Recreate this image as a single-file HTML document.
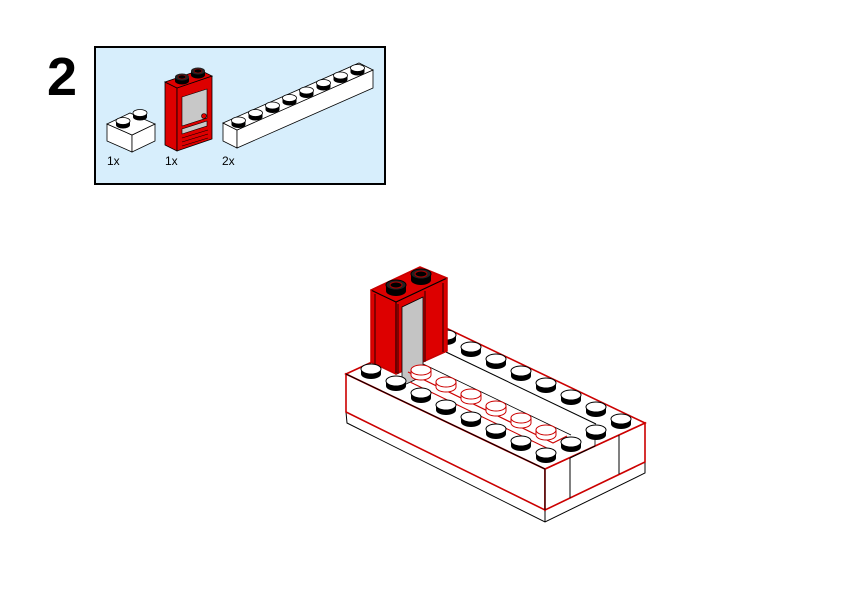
<!DOCTYPE html>
<html><head><meta charset="utf-8"><style>
html,body{margin:0;padding:0;background:#fff;}
svg{display:block;}
text{font-family:"Liberation Sans",sans-serif;}
</style></head><body>
<svg width="842" height="596" viewBox="0 0 842 596" xmlns="http://www.w3.org/2000/svg">
<defs>
<g id="s">
<ellipse cx="0" cy="0" rx="10" ry="5" fill="#000"/>
<rect x="-10" y="-5" width="20" height="5" fill="#000"/>
<ellipse cx="0" cy="-5" rx="10" ry="5" fill="#fff" stroke="#000" stroke-width="1"/>
</g>
<g id="g">
<ellipse cx="0" cy="0" rx="10" ry="5" fill="#fff" stroke="#c00" stroke-width="1"/>
<rect x="-10" y="-5" width="20" height="5" fill="#fff"/>
<path d="M-10,-5 V0 M10,-5 V0" stroke="#c00" stroke-width="1"/>
<ellipse cx="0" cy="-5" rx="10" ry="5" fill="#fff" stroke="#c00" stroke-width="1"/>
</g>
<g id="d">
<ellipse cx="0" cy="0" rx="10" ry="5" fill="#000"/>
<rect x="-10" y="-6" width="20" height="6" fill="#000"/>
<ellipse cx="0" cy="-6" rx="10" ry="5" fill="#222" stroke="#000"/>
<ellipse cx="0" cy="-6" rx="6" ry="3" fill="#000" stroke="#a00"/>
</g>
<g id="ss">
<ellipse cx="0" cy="0" rx="7" ry="3.5" fill="#000"/>
<rect x="-7" y="-4" width="14" height="4" fill="#000"/>
<ellipse cx="0" cy="-4" rx="7" ry="3.5" fill="#fff" stroke="#000" stroke-width="0.8"/>
</g>
<g id="sd">
<ellipse cx="0" cy="0" rx="7" ry="3.5" fill="#000"/>
<rect x="-7" y="-4" width="14" height="4" fill="#000"/>
<ellipse cx="0" cy="-4" rx="7" ry="3.5" fill="#222"/>
<ellipse cx="0" cy="-4" rx="4" ry="2" fill="#000" stroke="#a00" stroke-width="0.6"/>
</g>
</defs>

<text x="47" y="95" font-size="54" font-weight="bold">2</text>

<rect x="95" y="47" width="290" height="137" fill="#d7eefc" stroke="#000" stroke-width="2"/>

<!-- 1x2 brick -->
<polygon points="107,124 132,135 132,152 107,141" fill="#fff" stroke="#000" stroke-width="0.8"/>
<polygon points="132,135 155,124 155,141 132,152" fill="#fff" stroke="#000" stroke-width="0.8"/>
<polygon points="107,124 130,113 155,124 132,135" fill="#fff" stroke="#000" stroke-width="0.8"/>
<use href="#ss" x="123" y="125"/>
<use href="#ss" x="140" y="117"/>

<!-- door part -->
<polygon points="165,82 177,88 177,151 165,145" fill="#d00" stroke="#000" stroke-width="0.8"/>
<polygon points="177,88 212,76 212,139 177,151" fill="#d00" stroke="#000" stroke-width="0.8"/>
<polygon points="165,82 200,70 212,76 177,88" fill="#d00" stroke="#000" stroke-width="0.8"/>
<polygon points="182,97 207,89 207,118 182,126" fill="#c8c8c8" stroke="#000" stroke-width="0.6"/>
<polygon points="182,129 207,121 207,126 182,134" fill="#c8c8c8" stroke="#000" stroke-width="0.6"/>
<path d="M182,138 L208,130 M182,142 L208,134 M182,146 L208,138" stroke="#000" stroke-width="0.6"/>
<circle cx="204" cy="116" r="2.5" fill="#d00" stroke="#000" stroke-width="0.6"/>
<use href="#sd" x="182" y="81"/>
<use href="#sd" x="198" y="75"/>

<!-- 1x8 brick -->
<polygon points="223,123 237,130 237,148 223,141" fill="#fff" stroke="#000" stroke-width="0.8"/>
<polygon points="237,130 373,70 373,88 237,148" fill="#fff" stroke="#000" stroke-width="0.8"/>
<polygon points="223,123 359,63 373,70 237,130" fill="#fff" stroke="#000" stroke-width="0.8"/>
<use href="#ss" x="238.5" y="124.5"/>
<use href="#ss" x="255.5" y="117"/>
<use href="#ss" x="272.5" y="109.5"/>
<use href="#ss" x="289.5" y="102"/>
<use href="#ss" x="306.5" y="94.5"/>
<use href="#ss" x="323.5" y="87"/>
<use href="#ss" x="340.5" y="79.5"/>
<use href="#ss" x="357.5" y="72"/>

<text x="107" y="165" font-size="12">1x</text>
<text x="165" y="165" font-size="12">1x</text>
<text x="222" y="165" font-size="12">2x</text>

<!-- main model: lower layer -->
<polygon points="346,412 545,510 645,462 645,473 545,522 347,423" fill="#fff" stroke="#000" stroke-width="1"/>
<line x1="545" y1="510" x2="545" y2="522" stroke="#000"/>
<!-- top layer -->
<polygon points="346,374 545,469 545,510 346,412" fill="#fff" stroke="#c00" stroke-width="1.6"/>
<polygon points="545,469 645,423 645,462 545,510" fill="#fff" stroke="#c00" stroke-width="1.6"/>
<polygon points="346,374 446,328 645,423 545,469" fill="#fff" stroke="#c00" stroke-width="1.6"/>
<line x1="346" y1="374" x2="545" y2="469" stroke="#000" stroke-width="1"/>
<line x1="545" y1="469" x2="545" y2="510" stroke="#000" stroke-width="1"/>
<line x1="570" y1="458" x2="570" y2="498" stroke="#000" stroke-width="1"/>
<line x1="619" y1="435" x2="619" y2="474" stroke="#000" stroke-width="1"/>
<line x1="570" y1="458" x2="595" y2="446" stroke="#000" stroke-width="1"/>
<line x1="595" y1="446" x2="595" y2="425" stroke="#000" stroke-width="0.8"/>
<!-- hole inner edge -->
<line x1="446" y1="352" x2="596" y2="424" stroke="#000" stroke-width="1"/>
<line x1="421" y1="363" x2="571" y2="435" stroke="#000" stroke-width="0.8"/>

<!-- back row studs -->
<use href="#s" x="446" y="340"/>
<use href="#s" x="471" y="352"/>
<use href="#s" x="496" y="364"/>
<use href="#s" x="521" y="376"/>
<use href="#s" x="546" y="388"/>
<use href="#s" x="571" y="400"/>
<use href="#s" x="596" y="412"/>
<use href="#s" x="621" y="424"/>
<use href="#s" x="596" y="435"/>

<!-- door -->
<polygon points="371,362 396,374 396,302 371,290" fill="#d00" stroke="#000" stroke-width="1"/>
<polygon points="396,374 447,351 447,278 396,302" fill="#d00" stroke="#000" stroke-width="1"/>
<polygon points="371,290 420,267 447,278 396,302" fill="#d00" stroke="#000" stroke-width="1"/>
<polygon points="371,290 420,267 447,278 447,351 396,374 371,362" fill="none" stroke="#c00" stroke-width="1.5"/>
<line x1="375" y1="294" x2="375" y2="364" stroke="#000" stroke-width="0.8"/>
<line x1="398" y1="304" x2="398" y2="374" stroke="#000" stroke-width="0.8"/>
<line x1="425" y1="291" x2="425" y2="362" stroke="#000" stroke-width="0.8"/>
<line x1="443" y1="283" x2="443" y2="352" stroke="#000" stroke-width="0.8"/>
<polygon points="402,307 423,297 423,376 402,386" fill="#c4c4c4" stroke="#000" stroke-width="0.8"/>
<use href="#d" x="396" y="291"/>
<use href="#d" x="421" y="280"/>

<!-- ghost row -->
<polyline points="408,372 553,443 567,436" fill="none" stroke="#c00" stroke-width="1.2"/>
<polyline points="410,382 553,451" fill="none" stroke="#c00" stroke-width="1"/>
<use href="#g" x="421" y="375"/>
<use href="#g" x="446" y="387"/>
<use href="#g" x="471" y="399"/>
<use href="#g" x="496" y="411"/>
<use href="#g" x="521" y="423"/>
<use href="#g" x="546" y="435"/>
<use href="#s" x="571" y="447"/>

<!-- front row studs -->
<use href="#s" x="371" y="374"/>
<use href="#s" x="396" y="386"/>
<use href="#s" x="421" y="398"/>
<use href="#s" x="446" y="410"/>
<use href="#s" x="471" y="422"/>
<use href="#s" x="496" y="434"/>
<use href="#s" x="521" y="446"/>
<use href="#s" x="546" y="458"/>
</svg>
</body></html>
